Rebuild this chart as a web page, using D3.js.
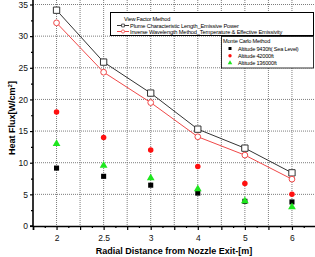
<!DOCTYPE html>
<html>
<head>
<meta charset="utf-8">
<script src="https://cdn.jsdelivr.net/npm/d3@7"></script>
<style>
  body { margin: 0; background: #fff; }
  svg { display: block; font-family: "Liberation Sans", Arial, sans-serif; }
</style>
</head>
<body>
<svg id="chart"></svg>
<script>
const width = 315;
const height = 257;

// data
const distances = ['2', '2.5', '3', '4', '5', '6'];
const plumeLength = [34.1, 25.9, 21.0, 15.3, 12.3, 8.4];
const inverseWavelength = [32.1, 24.3, 19.5, 14.1, 11.2, 7.4];
const alt9430 = [9.15, 7.85, 6.45, 5.2, 3.9, 3.8];
const alt42000 = [18.0, 14.0, 12.0, 9.4, 6.7, 5.0];
const alt136000 = [13.0, 9.55, 7.6, 5.85, 3.95, 3.0];
const yTicks = [0, 5, 10, 15, 20, 25, 30, 35];

const svg = d3.select('#chart').attr('width', width).attr('height', height);

const plotLeft = 33, plotRight = 315.5, plotTop = 4.5, plotBottom = 226;

const x = d3.scalePoint().domain(distances).range([plotLeft, plotRight]).padding(0.5);
const xi = d3.scaleLinear().domain([-0.5, 5.5]).range([plotLeft, plotRight]);
const y = d3.scaleLinear().domain([0, 35]).range([plotBottom, plotTop]);

// grid
const grid = svg.append('g').attr('stroke', '#6e6e6e').attr('stroke-width', 0.9)
  .attr('stroke-dasharray', '1,1');
d3.range(0, 5.01, 0.5).forEach(i => {
  grid.append('line').attr('x1', xi(i)).attr('x2', xi(i)).attr('y1', 0).attr('y2', plotBottom);
});
yTicks.slice(1).forEach(v => {
  grid.append('line').attr('x1', plotLeft).attr('x2', plotRight).attr('y1', y(v)).attr('y2', y(v));
});

// axes
const yAxis = svg.append('g').attr('transform', `translate(${plotLeft},0)`)
  .call(d3.axisLeft(y).tickValues(yTicks).tickSize(3).tickPadding(2));
yAxis.select('.domain').attr('d', `M-3,${plotBottom}H0V0`);
const yMinor = svg.append('g').attr('transform', `translate(${plotLeft},0)`)
  .call(d3.axisLeft(y).tickValues(d3.range(2.5, 35, 5)).tickSize(2).tickFormat(''));
yMinor.select('.domain').remove();

svg.append('g').attr('transform', `translate(0,${plotBottom})`)
  .call(d3.axisBottom(x).tickSize(4).tickPadding(5));
const xMinor = svg.append('g').attr('transform', `translate(0,${plotBottom})`)
  .call(d3.axisBottom(xi).tickValues(d3.range(-0.25, 5.6, 0.5)).tickSize(2).tickFormat(''));
xMinor.select('.domain').remove();
const xMid = svg.append('g').attr('transform', `translate(0,${plotBottom})`)
  .call(d3.axisBottom(xi).tickValues(d3.range(-0.5, 5.6, 1)).tickSize(4).tickFormat(''));
xMid.select('.domain').remove();

svg.selectAll('.domain').attr('stroke-width', 1.6).attr('stroke', '#000');
svg.selectAll('.tick line').attr('stroke', '#000').attr('stroke-width', 1.2);
svg.selectAll('.tick text').attr('font-size', 8.5).attr('fill', '#111')
  .attr('font-family', '"Liberation Sans", Arial, sans-serif');

// axis titles
svg.append('text').attr('x', 174).attr('y', 254).attr('text-anchor', 'middle')
  .attr('font-size', 9).attr('font-weight', 'bold')
  .text('Radial Distance from Nozzle Exit-[m]');
const yt = svg.append('text').attr('transform', 'translate(15,118) rotate(-90)')
  .attr('text-anchor', 'middle').attr('font-size', 9).attr('font-weight', 'bold');
yt.append('tspan').text('Heat Flux[W/cm');
yt.append('tspan').attr('font-size', 6).attr('dy', -3.5).text('2');
yt.append('tspan').attr('dy', 3.5).text(']');

// lines
const series = [
  { vals: plumeLength, color: '#333', sym: d3.symbolSquare, size: 40 },
  { vals: inverseWavelength, color: '#f04848', sym: d3.symbolCircle, size: 26 }
];
const line = d3.line().x((d, i) => x(distances[i])).y(d => y(d));
series.forEach(s => {
  svg.append('path').datum(s.vals).attr('d', line)
    .attr('fill', 'none').attr('stroke', s.color).attr('stroke-width', 1);
  svg.selectAll(null).data(s.vals).enter().append('path')
    .attr('transform', (d, i) => `translate(${x(distances[i])},${y(d)})`)
    .attr('d', d3.symbol(s.sym).size(s.size))
    .attr('fill', '#fff').attr('stroke', s.color).attr('stroke-width', 1);
});

// monte carlo points
const points = [
  { vals: alt9430, color: '#000', sym: d3.symbolSquare, size: 26 },
  { vals: alt42000, color: '#ff1010', sym: d3.symbolCircle, size: 24 },
  { vals: alt136000, color: '#1ee61e', sym: d3.symbolTriangle, size: 26 }
];
points.forEach(p => {
  svg.selectAll(null).data(p.vals).enter().append('path')
    .attr('transform', (d, i) => `translate(${x(distances[i])},${y(d)})`)
    .attr('d', d3.symbol(p.sym).size(p.size))
    .attr('fill', p.color);
});

// legend 1
const lg1 = svg.append('g');
lg1.append('rect').attr('x', 110.5).attr('y', 12.5).attr('width', 203).attr('height', 23)
  .attr('fill', '#fff').attr('stroke', '#000').attr('stroke-width', 1);
lg1.append('text').attr('x', 124).attr('y', 20.5).attr('font-size', 5.6).attr('letter-spacing', -0.2)
  .text('View Factor Method');
const lg1Items = ['Plume Characteristic Length_Emissive Power',
  'Inverse Wavelength Method_Temperature & Effective Emissivity'];
lg1Items.forEach((t, i) => {
  const yy = 25.5 + i * 6;
  const s = series[i];
  lg1.append('line').attr('x1', 117).attr('x2', 129).attr('y1', yy).attr('y2', yy)
    .attr('stroke', s.color).attr('stroke-width', 1);
  lg1.append('path').attr('transform', `translate(123,${yy})`)
    .attr('d', d3.symbol(s.sym).size(8))
    .attr('fill', '#fff').attr('stroke', s.color).attr('stroke-width', 0.8);
  lg1.append('text').attr('x', 130).attr('y', yy + 2).attr('font-size', 5.7)
    .attr('letter-spacing', -0.15).text(t);
});

// legend 2
const lg2 = svg.append('g');
lg2.append('rect').attr('x', 221.5).attr('y', 36.5).attr('width', 92).attr('height', 31.5)
  .attr('fill', '#fff').attr('stroke', '#000').attr('stroke-width', 0.8);
lg2.append('text').attr('x', 223).attr('y', 43).attr('font-size', 5.6).attr('letter-spacing', -0.2)
  .text('Monte Carlo Method');
const lg2Items = ['Altitude 9430ft( Sea Level)', 'Altitude 42000ft', 'Altitude 136000ft'];
lg2Items.forEach((t, i) => {
  const yy = 48.5 + i * 7.2;
  lg2.append('path').attr('transform', `translate(230,${yy})`)
    .attr('d', d3.symbol(points[i].sym).size(9)).attr('fill', points[i].color);
  lg2.append('text').attr('x', 238).attr('y', yy + 2).attr('font-size', 5.6)
    .attr('letter-spacing', -0.2).text(t);
});
</script>
</body>
</html>
